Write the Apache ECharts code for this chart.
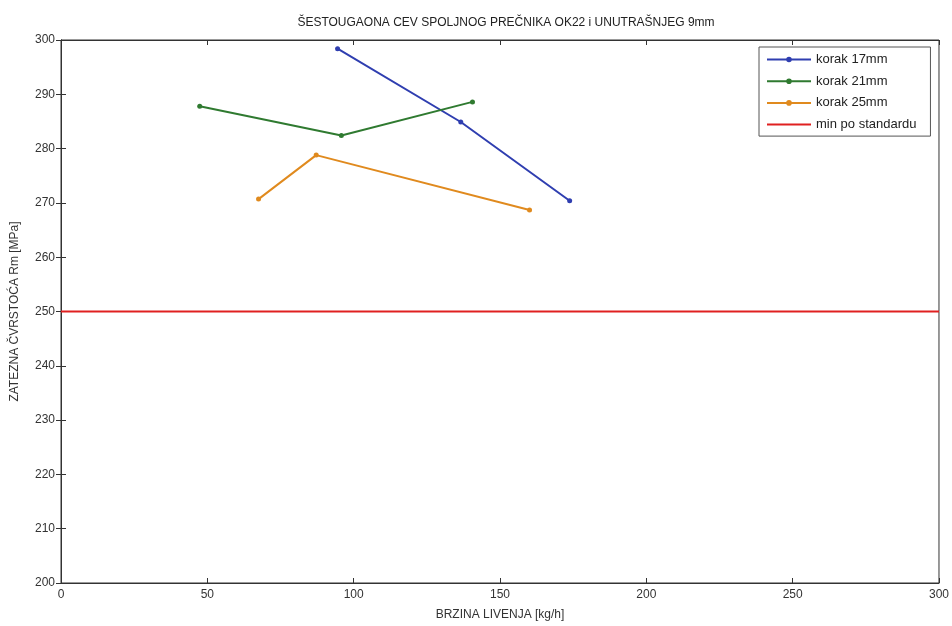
<!DOCTYPE html>
<html><head><meta charset="utf-8">
<script src="https://cdn.jsdelivr.net/npm/echarts@6/dist/echarts.min.js"></script>
<style>html,body{margin:0;padding:0;background:#fff}#c{width:952px;height:626px}</style>
</head><body><div id="c"></div>
<script>
const titleText = 'ŠESTOUGAONA CEV SPOLJNOG PREČNIKA OK22 i UNUTRAŠNJEG 9mm';
const xName = 'BRZINA LIVENJA [kg/h]';
const yName = 'ZATEZNA ČVRSTOĆA Rm [MPa]';
const names = ['korak 17mm', 'korak 21mm', 'korak 25mm', 'min po standardu'];
const x17 = [94.5, 136.6, 173.8];
const y17 = [298.4, 284.9, 270.4];
const x21 = [47.4, 95.8, 140.6];
const y21 = [287.8, 282.4, 288.6];
const x25 = [67.5, 87.2, 160.1];
const y25 = [270.7, 278.8, 268.7];
const xMin = [0, 300];
const yMin = [250, 250];
const colors = ['#2f3eb0', '#2f7a30', '#e08a1e', '#e02020'];

const pairs = (xs, ys) => xs.map((v, i) => [v, ys[i]]);
const font = 'Liberation Sans';
const bboxFix = 'M0,0L0.01,0L0.01,0.01ZM0,12L0.01,12L0.01,11.99Z';
const iconDot = 'path://' + bboxFix +
  'M0,5L20,5L20,7L0,7ZM24,5L44,5L44,7L24,7Z' +
  'M19.2,6A2.8,2.8,0,1,1,24.8,6A2.8,2.8,0,1,1,19.2,6Z';
const iconLine = 'path://' + bboxFix + 'M0,5L44,5L44,7L0,7Z';
const chart = echarts.init(document.getElementById('c'));
const tickStyle = {show: true, inside: true, length: 5, lineStyle: {color: '#333'}};
const lineSeries = (name, xs, ys, color, sym) => ({
  name, type: 'line', data: pairs(xs, ys), color,
  symbol: sym ? 'circle' : 'none', symbolSize: 5, showSymbol: sym,
  lineStyle: {width: 2, color}, itemStyle: {color}, animation: false, z: sym ? 3 : 2
});
chart.setOption({
  animation: false,
  textStyle: {fontFamily: font},
  title: {text: titleText, left: 501, top: 12, textAlign: 'center',
    textStyle: {fontFamily: font, fontSize: 12, fontWeight: 'normal', color: '#222'}},
  grid: {left: 61, right: 11, top: 40, bottom: 40, show: true, borderColor: '#333', borderWidth: 1},
  legend: {
    orient: 'vertical', left: 759, top: 47,
    data: names.map((n, i) => ({name: n, icon: i < 3 ? iconDot : iconLine})),
    backgroundColor: '#fff', borderColor: '#555', borderWidth: 1,
    padding: [6, 14, 5, 8], itemWidth: 44, itemHeight: 12, itemGap: 8.7,
    textStyle: {fontFamily: font, fontSize: 13, color: '#222'}
  },
  xAxis: [{
    type: 'value', min: 0, max: 300, interval: 50, name: xName,
    nameLocation: 'middle', nameGap: 26,
    nameTextStyle: {fontFamily: font, fontSize: 12, color: '#333'},
    axisLine: {show: true, lineStyle: {color: '#333'}}, axisTick: tickStyle,
    splitLine: {show: false},
    axisLabel: {fontFamily: font, fontSize: 12, color: '#333', margin: 6}
  }, {
    type: 'value', position: 'top', min: 0, max: 300, interval: 50,
    axisLine: {show: true, lineStyle: {color: '#333'}}, axisTick: tickStyle,
    axisLabel: {show: false}, splitLine: {show: false}
  }],
  yAxis: [{
    type: 'value', min: 200, max: 300, interval: 10, name: yName,
    nameLocation: 'middle', nameGap: 40, nameRotate: 90,
    nameTextStyle: {fontFamily: font, fontSize: 12, color: '#333'},
    axisLine: {show: true, lineStyle: {color: '#333'}}, axisTick: tickStyle,
    splitLine: {show: false},
    axisLabel: {fontFamily: font, fontSize: 12, color: '#333', margin: 6}
  }, {
    type: 'value', position: 'right', min: 200, max: 300, interval: 10,
    axisLine: {show: true, lineStyle: {color: '#333'}}, axisTick: tickStyle,
    axisLabel: {show: false}, splitLine: {show: false}
  }],
  series: [
    lineSeries(names[0], x17, y17, colors[0], true),
    lineSeries(names[1], x21, y21, colors[1], true),
    lineSeries(names[2], x25, y25, colors[2], true),
    lineSeries(names[3], xMin, yMin, colors[3], false)
  ]
});
</script></body></html>
